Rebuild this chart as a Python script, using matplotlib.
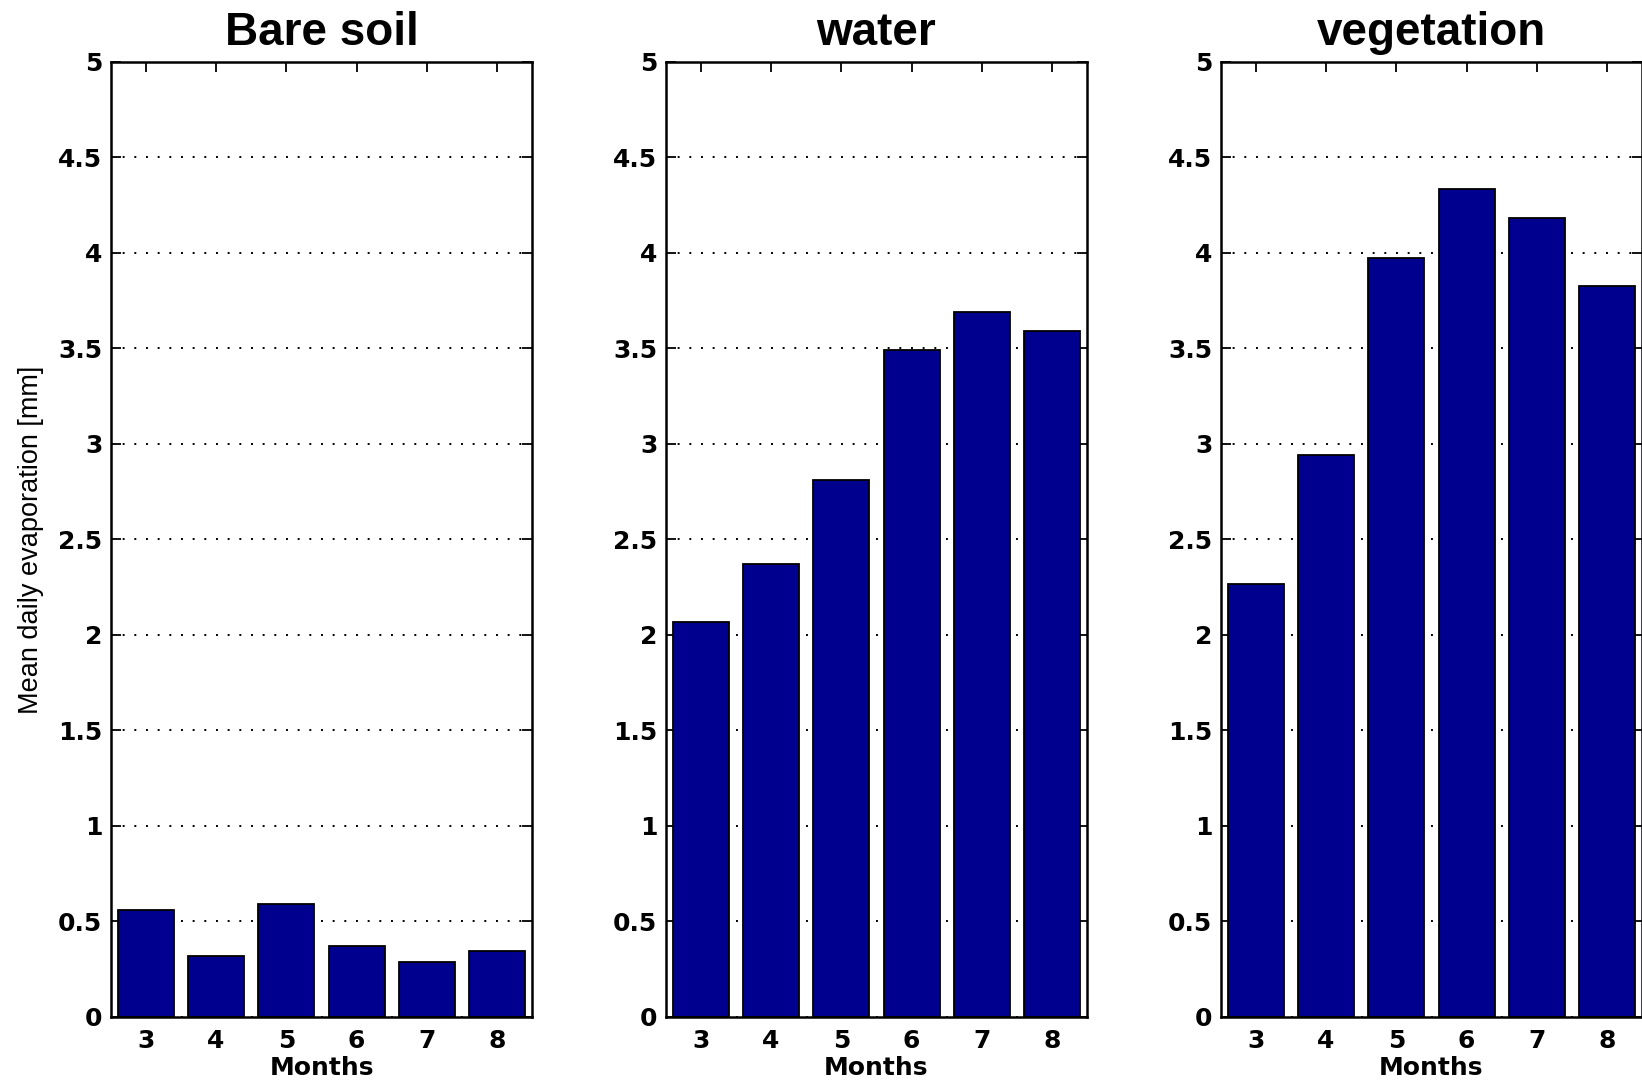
import numpy as np
import matplotlib
matplotlib.use("Agg")
import matplotlib.pyplot as plt

plt.rcParams['font.family'] = ['Liberation Sans', 'DejaVu Sans']

months = [3, 4, 5, 6, 7, 8]
titles = ["Bare soil", "water", "vegetation"]
bare_soil = [0.56, 0.32, 0.59, 0.37, 0.29, 0.345]
water = [2.07, 2.37, 2.81, 3.49, 3.69, 3.59]
vegetation = [2.265, 2.94, 3.975, 4.335, 4.185, 3.825]
yticks = [0, 0.5, 1, 1.5, 2, 2.5, 3, 3.5, 4, 4.5, 5]
ytick_labels = ["0", "0.5", "1", "1.5", "2", "2.5", "3", "3.5", "4", "4.5", "5"]

bar_color = "#00008f"
tick_font = dict(family="DejaVu Sans", weight="bold", size=18)

fig = plt.figure(figsize=(16.42, 10.82), dpi=100)

lefts = [0.0674, 0.4054, 0.7434]
series = [bare_soil, water, vegetation]

for i in range(3):
    ax = fig.add_axes([lefts[i], 0.0601, 0.2568, 0.8826])
    ax.bar(months, series[i], width=0.8, color=bar_color,
           edgecolor="black", linewidth=1.3, zorder=3)
    ax.set_xlim(2.5, 8.5)
    ax.set_ylim(0, 5)
    ax.set_xticks(months)
    ax.set_xticklabels([str(m) for m in months], fontdict=tick_font)
    ax.set_yticks(yticks)
    ax.set_yticklabels(ytick_labels, fontdict=tick_font)
    ax.yaxis.grid(True, linestyle=(0, (1, 5)), color="black", linewidth=1.4, zorder=0)
    ax.tick_params(direction="in", length=7, width=1.3, top=True, right=True)
    ax.tick_params(axis="x", pad=9)
    ax.tick_params(axis="y", pad=6)
    for sp in ax.spines.values():
        sp.set_linewidth(1.8)
        sp.set_zorder(4)
    ax.set_title(titles[i], fontsize=33, fontweight="bold", pad=12)
    ax.set_xlabel("Months", family="DejaVu Sans", fontsize=18,
                  fontweight="bold", labelpad=2)
    if i == 0:
        ax.set_ylabel("Mean daily evaporation [mm]", fontsize=19.5, labelpad=10)

fig.savefig("out.png", dpi=100)
